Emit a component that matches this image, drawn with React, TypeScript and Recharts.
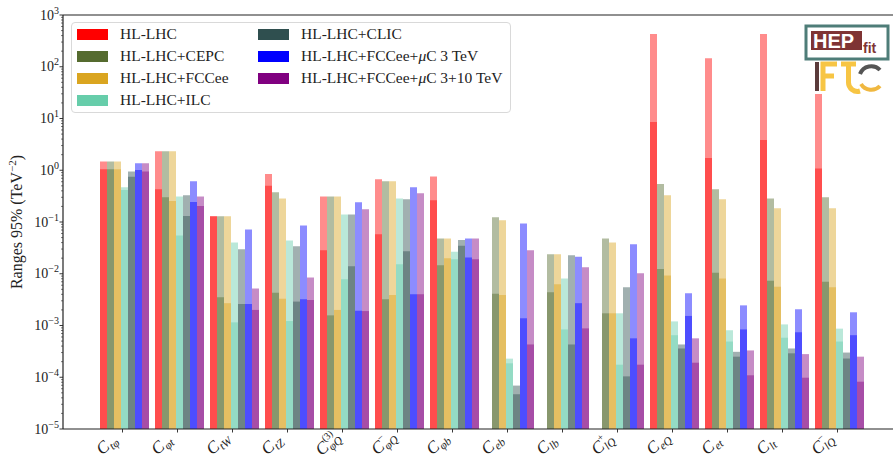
import React from 'react';
import { BarChart, Bar, XAxis, YAxis, Legend, ReferenceLine } from 'recharts';

const serif = "'Liberation Serif', 'Times New Roman', serif";

// operator labels: C_{sub}^{sup}
const catSubs = ['tφ', 'φt', 'tW', 'tZ', 'φQ', 'φQ', 'φb', 'eb', 'lb', 'lQ', 'eQ', 'et', 'lt', 'lQ'];
const catSups = ['', '', '', '', '(3)', '−', '', '', '', '+', '', '', '', '−'];

// light bars (wide range) and solid bars (narrow range), TeV^-2
const hllhcWide = [1.47, 2.32, 0.129, 0.85, 0.31, 0.67, 0.76, null, null, null, 430, 146, 430, 300];
const hllhcNarrow = [1.04, 0.43, 0.129, 0.5, 0.0284, 0.058, 0.262, null, null, null, 8.55, 1.73, 3.85, 1.08];
const cepcWide = [1.47, 2.32, 0.129, 0.374, 0.31, 0.61, 0.048, 0.123, 0.0237, 0.048, 0.54, 0.43, 0.286, 0.3];
const cepcNarrow = [1.04, 0.3, 0.0035, 0.0043, 0.00157, 0.0032, 0.0146, 0.0041, 0.0044, 0.00172, 0.0124, 0.0105, 0.0073, 0.007];
const fcceeWide = [1.47, 2.32, 0.129, 0.286, 0.31, 0.61, 0.048, 0.108, 0.0237, 0.04, 0.327, 0.274, 0.184, 0.184];
const fcceeNarrow = [1.05, 0.255, 0.0027, 0.0033, 0.002, 0.0039, 0.0199, 0.0039, 0.00625, 0.00172, 0.0093, 0.0081, 0.0056, 0.0055];
const ilcWide = [0.47, 0.31, 0.04, 0.044, 0.14, 0.286, 0.0267, 0.000229, 0.0081, 0.00172, 0.0012, 0.00081, 0.00105, 0.00087];
const ilcNarrow = [0.415, 0.055, 0.00115, 0.00122, 0.0078, 0.0152, 0.019, 0.000186, 0.00084, 0.000175, 0.00065, 0.00049, 0.00058, 0.00049];
const clicWide = [0.95, 0.33, 0.0296, 0.034, 0.14, 0.274, 0.045, 6.9e-5, 0.0227, 0.0055, 0.00043, 0.00031, 0.00036, 0.0003];
const clicNarrow = [0.75, 0.13, 0.0026, 0.0029, 0.0139, 0.0271, 0.0348, 4.7e-5, 0.00043, 0.000104, 0.00036, 0.00025, 0.00029, 0.00023];
const muc3Wide = [1.36, 0.61, 0.072, 0.086, 0.24, 0.467, 0.048, 0.094, 0.0214, 0.037, 0.0042, 0.00245, 0.00206, 0.0018];
const muc3Narrow = [1.01, 0.243, 0.0026, 0.0032, 0.00193, 0.004, 0.0207, 0.00138, 0.0027, 0.000565, 0.00153, 0.00084, 0.00074, 0.00065];
const muc10Wide = [1.36, 0.31, 0.0052, 0.0085, 0.176, 0.358, 0.048, 0.0284, 0.0133, 0.0102, 0.000565, 0.00033, 0.00028, 0.00025];
const muc10Narrow = [0.95, 0.204, 0.002, 0.0031, 0.0019, 0.004, 0.019, 0.00043, 0.00088, 0.000175, 0.000191, 0.000109, 9.8e-5, 8.2e-5];

const majorTicks = [1e-5, 1e-4, 1e-3, 1e-2, 1e-1, 1, 10, 100, 1000];

const series = [
  { key: 'hl', label: 'HL-LHC', color: '#ff0000', wide: hllhcWide, narrow: hllhcNarrow },
  { key: 'cepc', label: 'HL-LHC+CEPC', color: '#556b2f', wide: cepcWide, narrow: cepcNarrow },
  { key: 'fcc', label: 'HL-LHC+FCCee', color: '#daa520', wide: fcceeWide, narrow: fcceeNarrow },
  { key: 'ilc', label: 'HL-LHC+ILC', color: '#66cdaa', wide: ilcWide, narrow: ilcNarrow },
  { key: 'clic', label: 'HL-LHC+CLIC', color: '#2f4f4f', wide: clicWide, narrow: clicNarrow },
  { key: 'mu3', label: 'HL-LHC+FCCee+|μ|C 3 TeV', color: '#0000ff', wide: muc3Wide, narrow: muc3Narrow },
  { key: 'mu10', label: 'HL-LHC+FCCee+|μ|C 3+10 TeV', color: '#800080', wide: muc10Wide, narrow: muc10Narrow },
];

const data = catSubs.map((sub, i) => {
  const row: Record<string, unknown> = { name: `C_${sub}${catSups[i]}` };
  series.forEach((s) => {
    row[`${s.key}W`] = s.wide[i];
    row[`${s.key}N`] = s.narrow[i];
  });
  return row;
});

// log axis: majors plus matplotlib-style minor ticks
const allTicks: number[] = [];
for (let d = -5; d <= 3; d++) {
  allTicks.push(Math.pow(10, d));
  if (d < 3) for (let k = 2; k <= 9; k++) allTicks.push(k * Math.pow(10, d));
}

function YTick({ x, y, payload }: any) {
  const v = payload.value;
  const exp = Math.round(Math.log10(v));
  const major = majorTicks.some((m) => Math.abs(m - v) / m < 1e-9);
  return (
    <g>
      <line x1={x - (major ? 3.5 : 2)} x2={x} y1={y} y2={y} stroke="#222" strokeWidth={major ? 0.9 : 0.6} />
      {major && (
        <text x={x - 4} y={y + 4.5} textAnchor="end" fontFamily={serif} fontSize={14} fill="#222">
          10
          <tspan dy={-6} fontSize={10}>{exp < 0 ? `−${-exp}` : exp}</tspan>
        </text>
      )}
    </g>
  );
}

function XTick({ x, y, payload, index }: any) {
  const i = index ?? payload.index;
  const sub = catSubs[i];
  const sup = catSups[i];
  const w = Math.max(sub.length * 6, sup.length * 4.3);
  const ox = x - 5;
  const oy = y + 11;
  const rot = `rotate(-42 ${ox} ${oy})`;
  return (
    <g>
      <line x1={x - 2} x2={x - 2} y1={y} y2={y + 3.5} stroke="#222" strokeWidth={0.9} />
      <text transform={rot} x={ox - w} y={oy} textAnchor="end" fontFamily={serif} fontSize={17} fontStyle="italic" fill="#222">
        C
      </text>
      <text transform={rot} x={ox - w + 0.5} y={oy + 3.5} fontFamily={serif} fontSize={11.5} fontStyle="italic" fill="#222">
        {sub}
      </text>
      {sup && (
        <text transform={rot} x={ox - w + 0.5} y={oy - 8} fontFamily={serif} fontSize={10} fill="#222">
          {sup}
        </text>
      )}
    </g>
  );
}

function renderLabel(text: string) {
  const parts = text.split('|');
  if (parts.length === 1) return text;
  return (
    <>
      {parts[0]}
      <i>{parts[1]}</i>
      {parts[2]}
    </>
  );
}

function LegendBox() {
  return (
    <div
      style={{
        width: 440,
        height: 91,
        border: '1px solid #d9d9d9',
        borderRadius: 4,
        background: 'rgba(255,255,255,0.8)',
        boxSizing: 'border-box',
        position: 'relative',
        fontFamily: serif,
        fontSize: 15.5,
        color: '#222',
      }}
    >
      {series.map((s, i) => {
        const col = i < 4 ? 0 : 1;
        const row = i < 4 ? i : i - 4;
        return (
          <div
            key={s.key}
            style={{
              position: 'absolute',
              left: col ? 186 : 5,
              top: 1 + row * 22,
              height: 20,
              display: 'flex',
              alignItems: 'center',
              whiteSpace: 'nowrap',
            }}
          >
            <span style={{ width: 31, height: 11, background: s.color, display: 'inline-block' }} />
            <span style={{ marginLeft: 12 }}>{renderLabel(s.label)}</span>
          </div>
        );
      })}
    </div>
  );
}

function Logo() {
  return (
    <svg width={86} height={70} style={{ position: 'absolute', left: 804, top: 24 }}>
      <rect x={0} y={0} width={86} height={70} fill="#fff" />
      <rect x={2} y={2} width={82} height={33} fill="#fff" stroke="#4e7d78" strokeWidth={3} />
      <rect x={7} y={7} width={51} height={19} fill="#7f3434" />
      <text x={9} y={24} fontFamily="'Liberation Sans', Arial, sans-serif" fontWeight="bold" fontSize={20} fill="#fff">HEP</text>
      <text x={59} y={29} fontFamily="'Liberation Sans', Arial, sans-serif" fontWeight="bold" fontSize={14} fill="#7f3434">fit</text>
      <rect x={11} y={38} width={4} height={29} fill="#5b3b3b" />
      <path d="M19 67 L19 40 L33 40 M19 52 L30 52" fill="none" stroke="#f7c544" strokeWidth={5} />
      <path d="M37 40 L52 40 M44.5 40 L44.5 58 A 9 9 0 0 0 56 67" fill="none" stroke="#f7c544" strokeWidth={5} />
      <path d="M76 46 A 12 12 0 0 0 56 50" fill="none" stroke="#555" strokeWidth={4} />
      <path d="M57 60 A 12 12 0 0 0 76 62" fill="none" stroke="#f0b840" strokeWidth={4} />
    </svg>
  );
}

export default function App() {
  return (
    <div style={{ position: 'absolute', left: 0, top: 0, width: 893, height: 461, background: '#fff' }}>
      <BarChart
        width={893}
        height={461}
        data={data}
        margin={{ top: 15, right: 0, left: 8, bottom: 0 }}
        barCategoryGap={3}
        barGap={0}
      >
        <XAxis
          xAxisId="a"
          dataKey="name"
          interval={0}
          height={32}
          padding={{ left: 34, right: 26 }}
          tickSize={0}
          tickMargin={0}
          tick={<XTick />}
          axisLine={{ stroke: '#222', strokeWidth: 1.2 }}
        />
        <XAxis xAxisId="b" dataKey="name" hide padding={{ left: 34, right: 26 }} />
        <YAxis
          scale="log"
          domain={[1e-5, 1000]}
          allowDataOverflow
          ticks={allTicks}
          interval={0}
          width={55}
          tickSize={0}
          tickMargin={0}
          tick={<YTick />}
          axisLine={{ stroke: '#222', strokeWidth: 1.2 }}
          label={{
            content: () => (
              <text
                transform="translate(22,222) rotate(-90)"
                textAnchor="middle"
                fontFamily={serif}
                fontSize={16}
                fill="#222"
              >
                Ranges 95% (TeV
                <tspan dy={-6} fontSize={11}>−2</tspan>
                <tspan dy={6}>)</tspan>
              </text>
            ),
          }}
        />
        <ReferenceLine xAxisId="a" y={1000} stroke="#222" strokeWidth={1.2} />
        <Legend
          layout="horizontal"
          verticalAlign="middle"
          align="center"
          content={() => <LegendBox />}
          wrapperStyle={{ left: 71, top: 22, width: 440, height: 91 }}
        />
        {series.map((s) => (
          <Bar key={`${s.key}W`} xAxisId="a" dataKey={`${s.key}W`} fill={s.color} fillOpacity={0.45} isAnimationActive={false} />
        ))}
        {series.map((s) => (
          <Bar key={`${s.key}N`} xAxisId="b" dataKey={`${s.key}N`} fill={s.color} fillOpacity={0.45} isAnimationActive={false} />
        ))}
      </BarChart>
      <Logo />
    </div>
  );
}
